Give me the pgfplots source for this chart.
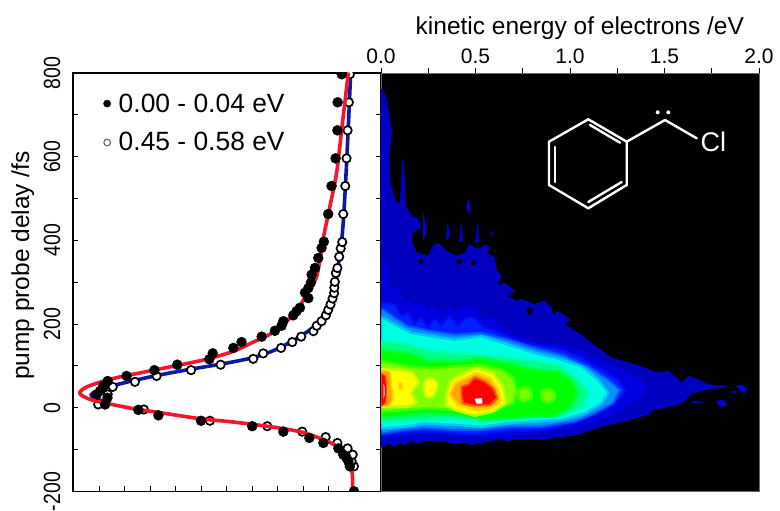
\documentclass[border=0pt]{standalone}
\usepackage{fontspec}
\setmainfont{Liberation Sans}
\usepackage{pgfplots}
\pgfplotsset{compat=1.18}
\definecolor{cRed}{HTML}{F5162E}
\definecolor{cBlue}{HTML}{0A1AA5}
\definecolor{b0}{RGB}{0,0,190}
\definecolor{b1}{RGB}{0,0,225}
\definecolor{b1e}{RGB}{0,0,210}
\definecolor{b2}{RGB}{0,32,255}
\definecolor{b2e}{RGB}{0,16,240}
\definecolor{b3}{RGB}{0,144,255}
\definecolor{b3e}{RGB}{0,88,255}
\definecolor{c4}{RGB}{0,255,224}
\definecolor{c4e}{RGB}{0,200,240}
\definecolor{c5}{RGB}{0,255,128}
\definecolor{c5e}{RGB}{0,255,176}
\definecolor{g6}{RGB}{0,255,0}
\definecolor{g6e}{RGB}{0,255,64}
\definecolor{y7}{RGB}{128,255,0}
\definecolor{y7e}{RGB}{64,255,0}
\definecolor{y7s}{RGB}{120,255,0}
\definecolor{y7m}{RGB}{70,255,0}
\definecolor{y8}{RGB}{255,255,0}
\definecolor{y8e}{RGB}{192,255,0}
\definecolor{o9}{RGB}{255,165,0}
\definecolor{o9e}{RGB}{255,210,0}
\definecolor{o9s}{RGB}{255,205,0}
\definecolor{r10}{RGB}{255,0,0}
\definecolor{r10e}{RGB}{255,85,0}
\pgfplotstableread{
s d
0 -199.5
.016 -140
.022 -128
.029 -120
.042 -112
.061 -97
.12 -84
.175 -72
.277 -57
.399 -44
.6 -31
.767 -18
.846 -5
.976 8
.967 24
1.009 32
.996 40
.983 52
.966 64
.892 76
.783 90
.693 103
.567 116
.554 130
.473 143
.441 157
.362 170
.31 184
.284 196
.277 207
.238 221
.225 231
.212 239
.179 262
.192 275
.179 286
.169 299
.166 318
.153 334
.14 358
.127 382
.118 397
.101 463
.088 530
.072 596
.065 663
.064 730
.048 797
}\blackpts
\pgfplotstableread{
s d
0 -140
.009 -128
.005 -112
.025 -97
.065 -84
.111 -70
.203 -57
.34 -44
.565 -31
.824 -4
1.003 8
.966 32
.946 50
.859 62
.774 76
.639 90
.523 103
.395 117
.356 130
.286 143
.242 157
.207 170
.159 183
.146 196
.127 207
.11 221
.101 234
.092 247
.084 261
.078 274
.077 287
.075 301
.071 322
.065 334
.058 361
.052 381
.046 396
.042 463
.034 530
.029 596
.025 663
.02 730
.016 797
}\whitepts
\pgfplotstableread{
s d
.005 -200
.007 -156
.022 -120
.068 -92
.12 -76
.212 -57
.342 -44
.473 -34
.604 -26
.735 -14
.865 -2
.957 9
1.035 20
1.075 34
1.055 48
.996 61
.931 72
.826 85
.695 101
.578 116
.473 135
.395 157
.329 176
.277 200
.225 231
.186 271
.146 315
.12 406
.094 482
.068 562
.048 666
.022 801
}\redfit
\pgfplotstableread{
s d
.957 9
1.029 28
1.009 40
.944 53
.865 65
.774 77
.643 92
.525 104
.395 120
.303 140
.212 170
.146 200
.101 239
.077 283
.048 402
.035 514
.022 674
.013 801
}\bluefit
\begin{document}
\begin{tikzpicture}[x=1pt,y=1pt]
\useasboundingbox (0,0) rectangle (780,511);
\begin{axis}[
 at={(73pt,19.5pt)},anchor=south west,scale only axis,width=308pt,height=418.5pt,
 x dir=reverse,xmin=-0.106,xmax=1.102,ymin=-200,ymax=800,
 xtick={0,.1,.2,.3,.4,.5,.6,.7,.8,.9,1},xticklabels={},xtick pos=lower,
 ytick={-200,0,200,400,600,800},minor y tick num=1,
 tick align=inside,major tick length=5pt,minor tick length=5pt,
 tick style={black,line width=0.9pt},
 axis line style={black,line width=1.1pt},
 /pgf/number format/assume math mode=true,
 yticklabel={\scalebox{1}[1.2]{\pgfmathprintnumber{\tick}}},
 y tick label style={rotate=90,anchor=south,font=\fontsize{19.5}{23}\selectfont},
 yticklabel shift={9pt},
 ylabel={pump probe delay /fs},
 ylabel style={at={(axis description cs:-0.163,0.54)},anchor=center,font=\fontsize{24.5}{28}\selectfont},
 clip marker paths=true,
 legend style={at={(axis cs:.983,756)},anchor=north west,draw=none,fill=none,font=\fontsize{26.4}{30}\selectfont,row sep=15pt,inner sep=0pt},
 legend cell align=left,
]
\addlegendimage{only marks,mark=*,mark size=3.6pt,black}
\addlegendentry{\hspace{6pt}0.00 - 0.04 eV}
\addlegendimage{only marks,mark=*,mark size=3.3pt,mark options={fill=white,draw=gray!70!black,line width=1pt}}
\addlegendentry{\hspace{6pt}0.45 - 0.58 eV}
\addplot[cBlue,line width=3.6pt,smooth,forget plot] table[x=s,y=d]{\bluefit};
\addplot[only marks,mark=*,mark size=4.2pt,mark options={fill=white,draw=black,line width=1.7pt},forget plot] table[x=s,y=d]{\whitepts};
\addplot[cRed,line width=3.6pt,smooth,forget plot] table[x=s,y=d]{\redfit};
\addplot[only marks,mark=*,mark size=5pt,black,forget plot] table[x=s,y=d]{\blackpts};
\end{axis}
\begin{axis}[
 at={(381pt,19.5pt)},anchor=south west,scale only axis,width=378pt,height=418.5pt,
 xmin=0,xmax=2,ymin=-200,ymax=800,
 axis background/.style={fill=black},
 axis line style={draw=gray!80!black,line width=0.8pt},
 xtick={0,.5,1,1.5,2},minor x tick num=1,xtick pos=upper,xticklabel pos=upper,
 ytick=\empty,
 tick align=outside,major tick length=4.5pt,minor tick length=4.5pt,
 tick style={black,line width=0.9pt},
 x tick label style={/pgf/number format/.cd,fixed,fixed zerofill,precision=1,assume math mode=true,/tikz/.cd,font=\fontsize{21}{24}\selectfont,yshift=1pt},
 xlabel={kinetic energy of electrons /eV},
 xlabel style={at={(axis description cs:0.526,1.092)},anchor=base,font=\fontsize{24.5}{28}\selectfont},
 no markers,
 every axis plot/.append style={line join=round},
]
% outermost contour
\addplot[fill=b0,draw=b1e,line width=0.6pt] coordinates {(0,761)(.004,761)(.03,737)(.048,681)(.056,658)(.042,602)(.048,538)(.074,498)(.10,482)(.116,594)(.127,530)(.127,482)(.162,458)(.198,450)(.21,430)(.17,420)(.16,402)(.187,370)(.249,362)(.275,386)(.302,394)(.328,382)(.363,370)(.399,362)(.446,370)(.469,390)(.513,378)(.557,390)(.575,382)(.557,370)(.601,358)(.61,330)(.637,314)(.61,290)(.654,298)(.707,279)(.663,267)(.716,255)(.742,259)(.813,247)(.866,255)(.901,239)(.91,219)(.937,231)(.998,211)(.972,199)(1.042,179)(1.097,159)(1.22,119)(1.344,103)(1.467,83)(1.52,87)(1.591,59)(1.626,75)(1.679,67)(1.732,55)(1.829,51)(1.714,43)(1.644,35)(1.591,11)(1.423,-8)(1.42,-15)(1.309,-29)(1.168,-45)(1.026,-65)(.85,-75)(.8,-72)(.75,-75)(.71,-72)(.674,-80)(.63,-74)(.58,-80)(.53,-83)(.48,-88)(.44,-82)(.39,-85)(.34,-80)(.286,-82)(.24,-78)(.2,-85)(.16,-80)(.127,-88)(.1,-84)(.07,-92)(.04,-85)(.012,-93)(0,-93)(0,761)};
\addplot[fill=b1,draw=b1] coordinates {(.225,465)(.24,420)(.222,402)(.225,465)};
\addplot[fill=b0,draw=b0] coordinates {(.354,442)(.366,410)(.343,402)(.354,442)};
\addplot[fill=b0,draw=b0] coordinates {(.425,442)(.435,400)(.415,396)(.425,442)};
\addplot[fill=b1,draw=b1] coordinates {(.462,498)(.472,480)(.462,464)(.454,480)(.462,498)};
\addplot[fill=b0,draw=b0] coordinates {(.51,442)(.52,400)(.50,392)(.51,442)};
\addplot[fill=b0,draw=b0] coordinates {(.588,425)(.595,415)(.585,408)(.588,425)};
\addplot[fill=b1,draw=b1] coordinates {(1.882,51)(1.908,55)(1.935,45)(1.926,35)(1.90,43)(1.882,51)};
\addplot[fill=b1,draw=b1] coordinates {(1.776,15)(1.811,19)(1.829,7)(1.794,3)(1.776,15)};
\addplot[fill=b1,draw=b1] coordinates {(1.644,17)(1.679,15)(1.706,13)(1.65,13)(1.644,17)};
\addplot[fill=b1,draw=b1] coordinates {(1.855,40)(1.885,38)(1.87,34)(1.855,40)};
\addplot[fill=black,draw=black] coordinates {(.787,240)(.805,231)(.787,222)(.77,231)(.787,240)};
\addplot[fill=black,draw=black] coordinates {(.21,356)(.225,349)(.21,342)(.195,349)(.21,356)};
\addplot[fill=black,draw=black] coordinates {(.416,356)(.431,349)(.416,342)(.401,349)(.416,356)};
\addplot[fill=black,draw=black] coordinates {(.487,353)(.502,346)(.487,339)(.472,346)(.487,353)};
\addplot[fill=b1,draw=none] coordinates {(0,750)(.012,700)(.02,500)(.012,400)(0,360)(0,750)};
% graded contours
\addplot[fill=b1,draw=b1e,line width=1.5pt] coordinates {(0,354)(.019,354)(.055,282)(.099,290)(.116,251)(.152,259)(.187,239)(.213,255)(.249,235)(.284,243)(.319,227)(.363,239)(.407,227)(.451,243)(.496,239)(.54,211)(.584,215)(.628,195)(.69,179)(.743,167)(.85,155)(.956,151)(1.062,135)(1.168,111)(1.273,91)(1.362,71)(1.414,43)(1.362,19)(1.273,-5)(1.168,-29)(1.026,-49)(.85,-61)(.674,-69)(.48,-73)(.286,-65)(.127,-69)(.012,-77)(0,-77)(0,354)};
\addplot[fill=b2,draw=b2e,line width=2pt] coordinates {(0,251)(.019,251)(.072,247)(.108,219)(.143,227)(.178,199)(.213,215)(.249,191)(.284,211)(.319,195)(.363,219)(.407,195)(.451,215)(.496,215)(.54,191)(.584,187)(.628,179)(.69,167)(.743,158)(.85,148)(.956,139)(1.062,119)(1.168,91)(1.256,67)(1.291,43)(1.256,19)(1.168,-9)(1.026,-37)(.85,-53)(.674,-57)(.48,-65)(.286,-57)(.127,-61)(.012,-65)(0,-65)(0,251)};
\addplot[fill=b3,draw=b3e,line width=2pt] coordinates {(0,235)(.012,235)(.074,215)(.145,195)(.268,183)(.392,175)(.533,179)(.674,163)(.815,143)(.956,127)(1.097,99)(1.203,67)(1.265,43)(1.229,11)(1.132,-13)(1.026,-33)(.85,-45)(.674,-46)(.533,-53)(.392,-53)(.233,-49)(.127,-53)(.012,-61)(0,-61)(0,235)};
\addplot[fill=c4,draw=c4e,line width=2.5pt] coordinates {(0,215)(.012,215)(.074,199)(.162,179)(.268,171)(.392,163)(.533,171)(.674,151)(.815,131)(.956,115)(1.062,99)(1.15,67)(1.203,35)(1.168,11)(1.079,-13)(.956,-29)(.815,-33)(.674,-37)(.533,-45)(.392,-41)(.233,-37)(.127,-45)(.012,-49)(0,-49)(0,215)};
\addplot[fill=c5,draw=c5e,line width=2.5pt] coordinates {(0,159)(.012,159)(.145,151)(.268,135)(.392,131)(.533,127)(.674,119)(.815,111)(.956,99)(1.044,67)(1.097,35)(1.062,3)(.974,-17)(.815,-25)(.674,-29)(.533,-33)(.392,-25)(.233,-29)(.012,-33)(0,-33)(0,159)};
\addplot[fill=g6,draw=g6e,line width=2.5pt] coordinates {(0,139)(.012,139)(.145,131)(.268,111)(.392,111)(.533,119)(.674,107)(.815,91)(.938,87)(1.009,67)(1.044,35)(1.009,3)(.921,-21)(.815,-21)(.674,-25)(.55,-29)(.392,-17)(.233,-13)(.012,-25)(0,-25)(0,139)};
\addplot[fill=y7,draw=y7e,line width=2.5pt] coordinates {(0,111)(.012,111)(.145,99)(.268,95)(.392,99)(.533,103)(.638,91)(.70,72)(.72,40)(.70,10)(.65,3)(.55,-5)(.392,-5)(.233,-1)(.012,-9)(0,-9)(0,111)};
\addplot[fill=y7s,draw=y7m,line width=3pt,smooth] coordinates {(.73,45)(.76,50)(.79,42)(.795,25)(.76,16)(.73,22)(.73,45)};
\addplot[fill=y7s,draw=y7m,line width=3pt,smooth] coordinates {(.85,40)(.885,44)(.915,36)(.915,20)(.885,13)(.855,20)(.85,40)};
\addplot[fill=y8,draw=y8e,line width=2.5pt] coordinates {(0,93)(.1,91)(.17,85)(.2,60)(.16,35)(.19,12)(.14,3)(0,3)(0,93)};
\addplot[fill=y8,draw=y8e,line width=2pt,smooth] coordinates {(.23,65)(.27,72)(.3,55)(.28,30)(.24,25)(.225,45)(.23,65)};
\addplot[fill=y8,draw=y8e,line width=2.5pt] coordinates {(.346,27)(.363,63)(.443,83)(.504,95)(.593,83)(.645,51)(.663,11)(.593,-9)(.496,-19)(.39,-5)(.346,7)(.346,27)};
\addplot[fill=o9,draw=o9e,line width=2.5pt] coordinates {(.363,31)(.39,59)(.451,71)(.504,83)(.575,71)(.619,43)(.628,15)(.584,-1)(.496,-5)(.407,7)(.363,31)};
\addplot[fill=o9,draw=o9e,line width=1.5pt] coordinates {(0,91)(.048,87)(.056,51)(.065,19)(.039,3)(0,3)(0,91)};
\addplot[fill=o9s,draw=o9s,line width=1pt,smooth] coordinates {(.097,60)(.112,58)(.112,46)(.097,44)(.097,60)};
\addplot[fill=r10,draw=r10e,line width=2pt] coordinates {(.425,51)(.46,55)(.496,73)(.549,63)(.593,47)(.616,23)(.575,7)(.496,5)(.434,11)(.425,31)(.425,51)};
\addplot[fill=r10,draw=r10e,line width=1pt] coordinates {(0,83)(.025,75)(.03,43)(.025,11)(0,3)(0,83)};
\addplot[fill=white,draw=white] coordinates {(.497,21)(.533,23)(.536,11)(.506,10)(.497,21)};
\addplot[fill=white!60!red,draw=none] coordinates {(.012,60)(.02,50)(.02,30)(.012,20)(.012,60)};
\end{axis}
% structural formula
\begin{scope}[white,line width=2.4pt,line cap=round,line join=miter]
\draw (588.3,391.7)--(626.7,369.3)--(626.7,326)--(588.3,302.7)--(549,326)--(549,369.3)--cycle;
\draw (590,386)--(620,368.3);
\draw (555,364)--(555,329);
\draw (588.3,309)--(621.7,329);
\draw (626.7,369.3)--(665,391)--(696.7,372.7);
\fill (657.7,398.7) circle (2);
\fill (668.3,398.7) circle (2);
\node[white,font=\fontsize{27}{30}\selectfont,inner sep=0pt] at (713.3,369.3) {Cl};
\end{scope}
\end{tikzpicture}
\end{document}
